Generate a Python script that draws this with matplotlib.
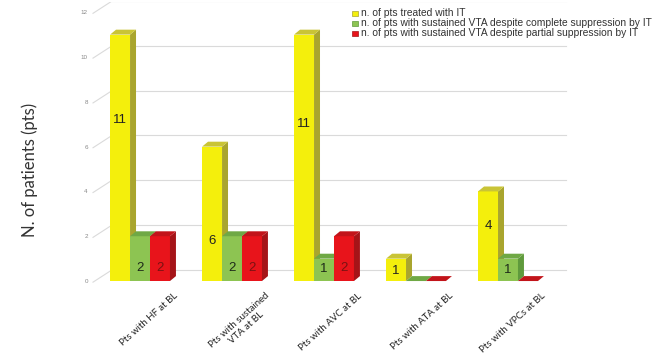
# 3d-look grouped bars, patients per baseline condition

import matplotlib.pyplot as plt
from matplotlib.patches import Polygon

categories = ['Pts with HF at BL', 'Pts with sustained\nVTA at BL', 'Pts with AVC at BL',
              'Pts with ATA at BL', 'Pts with VPCs at BL']
series_names = ['n. of pts treated with IT',
                'n. of pts with sustained VTA despite complete suppression by IT',
                'n. of pts with sustained VTA despite partial suppression by IT']
treated = [11, 6, 11, 1, 4]
complete = [2, 2, 1, 0, 1]
partial = [2, 2, 2, 0, 0]
yticks = [0, 2, 4, 6, 8, 10, 12]

# where the value labels sit inside the bars (the original is not consistent)
label_pos = [[7.2, 1.8, 7.0, 0.45, 2.45],
             [0.6, 0.6, 0.55, None, 0.5],
             [0.6, 0.6, 0.6, None, None]]

face = ['#f4ef0c', '#8dc452', '#e8141b']
side = ['#a9a52e', '#5f9a3c', '#a51418']
top = ['#c9c436', '#6fa845', '#c2141a']
txt = ['#222222', '#1e2a1a', '#7a1212']

plt.rcParams['font.family'] = ['Liberation Sans', 'DejaVu Sans']

fig = plt.figure(figsize=(6.52, 3.57), dpi=100)
W, H = 652, 357
ax = fig.add_axes([92 / W, 1 - 290 / H, (570 - 92) / W, (290 - 2) / H])
ax.set_xlim(-0.522, 4.674)
ax.set_ylim(-0.4, 12.455)

w = 0.217
dx, dy = 0.065, 0.22
back = 0.5

# back wall grid + little diagonals to the tick labels
for v in yticks:
    ax.plot([-0.304, 4.63], [v + back, v + back], color='#dadada', lw=0.8, zorder=0)
    ax.plot([-0.511, -0.304], [v - 0.05, v + back], color='#dadada', lw=0.8, zorder=0)

data = [treated, complete, partial]
for i in range(len(categories)):
    for s in range(3):
        x = i - 1.5 * w + s * w
        v = data[s][i]
        z = 2 + i * 3 + s
        ax.bar(x, v, width=w, align='edge', color=face[s], zorder=z, linewidth=0)
        ax.add_patch(Polygon([(x + w, 0), (x + w + dx, dy), (x + w + dx, v + dy), (x + w, v)],
                             closed=True, facecolor=side[s], edgecolor='none', zorder=z))
        ax.add_patch(Polygon([(x, v), (x + dx, v + dy), (x + w + dx, v + dy), (x + w, v)],
                             closed=True, facecolor=top[s], edgecolor='none', zorder=z))
        if label_pos[s][i] is not None and v > 0:
            ax.text(x + w / 2, label_pos[s][i], str(v), ha='center', va='center',
                    fontsize=9.5, color=txt[s], zorder=50)

ax.set_yticks(yticks)
ax.set_yticklabels([str(t) for t in yticks], fontsize=4.5, color='#888888')
ax.tick_params(axis='y', length=0, pad=3)
ax.set_xticks([])
for sp in ax.spines.values():
    sp.set_visible(False)

for i, lab in enumerate(categories):
    ax.text(i + 0.36, -0.45, lab, rotation=42, ha='right', va='top', rotation_mode='anchor',
            fontsize=6.9, color='#222222', multialignment='center', family='Lato',
            linespacing=1.1)

fig.text(30 / W, 1 - 170 / H, 'N. of patients (pts)', rotation=90, ha='center', va='center',
         fontsize=12, color='#333333', family='Lato')

# legend by hand, small squares
for k, name in enumerate(series_names):
    yy = 1 - (13 + 10 * k) / H
    fig.patches.append(plt.Rectangle((352 / W, yy - 2.5 / H), 6 / W, 5 / H, transform=fig.transFigure,
                                     facecolor=face[k], edgecolor=side[k], lw=0.5))
    fig.text(361 / W, yy, name, fontsize=7.4, color='#333333', va='center', ha='left')

fig.savefig('out.png', dpi=100)
